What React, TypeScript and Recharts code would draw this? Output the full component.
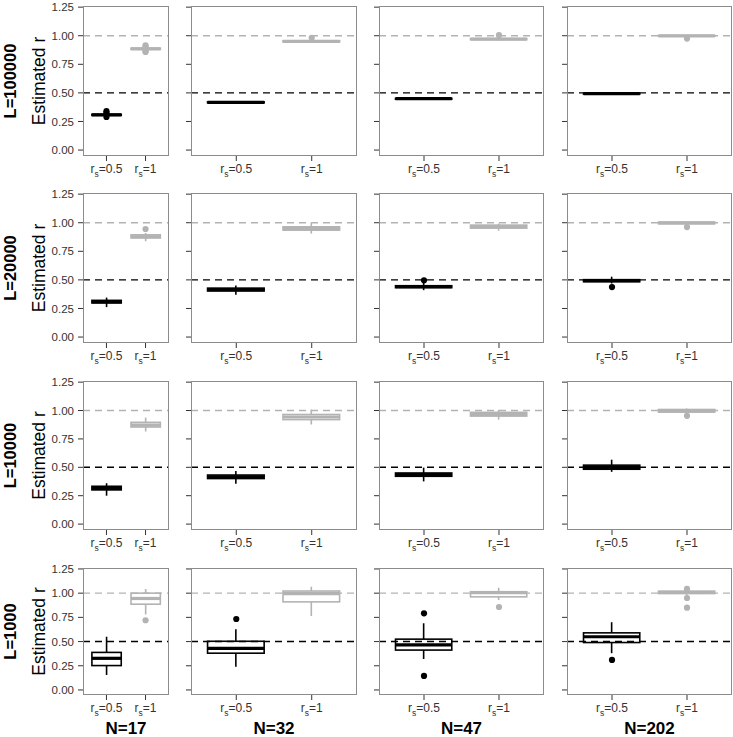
import React from 'react';
import { ComposedChart, Bar, Scatter, XAxis, YAxis, ReferenceLine } from 'recharts';

// ---------- data ----------
const ROW_LABELS = ['L=100000', 'L=20000', 'L=10000', 'L=1000'];
const COL_LABELS = ['N=17', 'N=32', 'N=47', 'N=202'];
const CATEGORIES = ['0.5', '1'];
const Y_TICKS = [0, 0.25, 0.5, 0.75, 1, 1.25];
const TRUE_R = [0.5, 1];
const Y_AXIS_TITLE = 'Estimated r';

// [lowWhisker, q1, median, q3, highWhisker]  rows: L, cols: N
const BOX_RS05 = [
  [[0.297, 0.303, 0.308, 0.313, 0.32], [0.406, 0.413, 0.417, 0.421, 0.428], [0.439, 0.445, 0.449, 0.452, 0.458], [0.486, 0.49, 0.493, 0.496, 0.5]],
  [[0.262, 0.298, 0.309, 0.321, 0.345], [0.37, 0.403, 0.415, 0.428, 0.452], [0.41, 0.432, 0.441, 0.449, 0.478], [0.468, 0.484, 0.493, 0.502, 0.528]],
  [[0.25, 0.301, 0.315, 0.333, 0.36], [0.355, 0.401, 0.416, 0.432, 0.467], [0.376, 0.421, 0.436, 0.45, 0.497], [0.46, 0.483, 0.5, 0.519, 0.567]],
  [[0.155, 0.252, 0.327, 0.388, 0.55], [0.24, 0.38, 0.43, 0.503, 0.627], [0.32, 0.412, 0.465, 0.525, 0.689], [0.38, 0.49, 0.55, 0.59, 0.7]],
];
const BOX_RS1 = [
  [[0.872, 0.88, 0.886, 0.891, 0.9], [0.937, 0.946, 0.951, 0.956, 0.966], [0.958, 0.966, 0.971, 0.975, 0.985], [0.99, 0.996, 0.999, 1.002, 1.006]],
  [[0.838, 0.867, 0.878, 0.894, 0.91], [0.905, 0.935, 0.95, 0.964, 1.0], [0.93, 0.953, 0.965, 0.979, 0.993], [0.985, 0.991, 0.998, 1.005, 1.012]],
  [[0.815, 0.855, 0.872, 0.896, 0.937], [0.877, 0.92, 0.943, 0.965, 1.008], [0.92, 0.951, 0.967, 0.984, 1.006], [0.972, 0.986, 0.998, 1.009, 1.018]],
  [[0.78, 0.886, 0.945, 1.0, 1.043], [0.764, 0.91, 0.995, 1.022, 1.067], [0.93, 0.962, 1.005, 1.015, 1.057], [0.975, 0.996, 1.008, 1.02, 1.035]],
];
const OUT_RS05 = [
  [[0.34, 0.326, 0.29], [], [], []],
  [[], [], [0.496], [0.437]],
  [[], [], [], []],
  [[], [0.733], [0.792, 0.145], [0.31]],
];
const OUT_RS1 = [
  [[0.915, 0.905, 0.865, 0.858], [0.982], [1.005], [0.975]],
  [[0.945], [], [], [0.962]],
  [[], [], [], [0.953]],
  [[0.72], [], [0.857], [1.045, 0.95, 0.85]],
];

// ---------- layout / style ----------
const FONT = '"Liberation Sans", Arial, Helvetica, sans-serif';
const BLACK = '#000000';
const GRAY = '#b3b3b3';
const TEXT = '#333333';
const BORDER = '#8c8c8c';
const COL_X = [83, 191, 379, 567];
const COL_W = [86, 166, 165, 165];
const ROW_Y = [6, 193, 381, 568];
const ROW_H = [150, 150, 149, 127];
const Y_DOMAIN: [number, number] = [-0.052, 1.26];
const OUT_KEYS = ['o0', 'o1', 'o2', 'o3'];
const TOP_PAD = 8;

const colorOf = (cat: string) => (cat === CATEGORIES[0] ? BLACK : GRAY);

const BoxShape = (props: any) => {
  const { x, y, width, height, payload } = props;
  if (!payload || !isFinite(x) || !isFinite(y)) return <g />;
  const { lo, q1, med, q3, hi, cat } = payload;
  const k = height / (hi - lo);
  const py = (v: number) => y + (hi - v) * k;
  const cx = x + width / 2;
  const col = colorOf(cat);
  return (
    <g>
      <line x1={cx} x2={cx} y1={py(hi)} y2={py(q3)} stroke={col} strokeWidth={1.6} />
      <line x1={cx} x2={cx} y1={py(q1)} y2={py(lo)} stroke={col} strokeWidth={1.6} />
      <rect x={x} y={py(q3)} width={width} height={Math.max(py(q1) - py(q3), 0)} fill="#ffffff" stroke={col} strokeWidth={1.6} />
      <line x1={x} x2={x + width} y1={py(med)} y2={py(med)} stroke={col} strokeWidth={3.2} />
    </g>
  );
};

const makeDot = (key: string) => (props: any) => {
  const { cx, cy, payload } = props;
  if (!payload || payload[key] == null || cy == null || !isFinite(cy) || !isFinite(cx)) return <g />;
  return <circle cx={cx} cy={cy} r={3.1} fill={colorOf(payload.cat)} />;
};

const XTick = (props: any) => {
  const { x, y, payload } = props;
  return (
    <text x={x} y={y + 10} textAnchor="middle" fontSize={12} fill={TEXT} fontFamily={FONT}>
      r<tspan fontSize={8.5} dy={3.5}>s</tspan>
      <tspan dy={-3.5}>={payload.value}</tspan>
    </text>
  );
};

const EmptyTick = () => <g />;

function Panel({ r, c }: { r: number; c: number }) {
  const yw = c === 0 ? 83 : 6;
  const pw = COL_W[c];
  const ph = ROW_H[r];
  const xh = 30;
  const pad = pw * 0.0455;
  const barSize = pw * 0.341;
  const data = CATEGORIES.map((cat, i) => {
    const b = (i === 0 ? BOX_RS05 : BOX_RS1)[r][c];
    const o = (i === 0 ? OUT_RS05 : OUT_RS1)[r][c];
    const row: any = { cat, lo: b[0], q1: b[1], med: b[2], q3: b[3], hi: b[4] };
    OUT_KEYS.forEach((k, j) => {
      row[k] = o[j] != null ? o[j] : null;
    });
    return row;
  });
  return (
    <>
      <div style={{ position: 'absolute', left: COL_X[c] - yw, top: ROW_Y[r] - TOP_PAD }}>
        <ComposedChart width={yw + pw} height={ph + xh + TOP_PAD} data={data} margin={{ top: TOP_PAD, right: 0, bottom: 0, left: 0 }}>
          <XAxis
            dataKey="cat"
            type="category"
            allowDuplicatedCategory={false}
            padding={{ left: pad, right: pad }}
            height={xh}
            axisLine={false}
            tickLine={{ stroke: TEXT, strokeWidth: 1 }}
            tickSize={5}
            interval={0}
            tick={<XTick />}
          />
          <YAxis
            type="number"
            domain={Y_DOMAIN}
            allowDataOverflow
            ticks={Y_TICKS}
            interval={0}
            width={yw}
            axisLine={false}
            tickLine={{ stroke: TEXT, strokeWidth: 1 }}
            tickSize={5}
            tickMargin={4}
            tickFormatter={(v: number) => v.toFixed(2)}
            tick={c === 0 ? { fontSize: 11.5, fill: TEXT, fontFamily: FONT } : <EmptyTick />}
          />
          <Bar dataKey={(d: any) => [d.lo, d.hi]} barSize={barSize} shape={BoxShape} isAnimationActive={false} />
          <ReferenceLine y={TRUE_R[0]} stroke={BLACK} strokeWidth={1.4} strokeDasharray="7 5" />
          <ReferenceLine y={TRUE_R[1]} stroke={GRAY} strokeWidth={1.4} strokeDasharray="7 5" />
          {OUT_KEYS.map((k) => (
            <Scatter key={k} dataKey={k} isAnimationActive={false} shape={makeDot(k)} />
          ))}
        </ComposedChart>
      </div>
      <div
        style={{
          position: 'absolute',
          left: COL_X[c],
          top: ROW_Y[r],
          width: pw,
          height: ph,
          border: `1px solid ${BORDER}`,
          boxSizing: 'border-box',
          pointerEvents: 'none',
        }}
      />
    </>
  );
}

export default function App() {
  return (
    <div style={{ position: 'absolute', left: 0, top: 0, width: 733, height: 737, background: '#ffffff', overflow: 'hidden' }}>
      <svg style={{ position: 'absolute', left: 0, top: 0 }} width={733} height={737}>
        {ROW_LABELS.map((lab, r) => {
          const cy = ROW_Y[r] + ROW_H[r] / 2;
          return (
            <g key={lab}>
              <text transform={`translate(15.5, ${cy}) rotate(-90)`} textAnchor="middle" fontWeight="bold" fontSize={16.5} fontFamily={FONT} fill="#000">
                {lab}
              </text>
              <text transform={`translate(45, ${cy}) rotate(-90)`} textAnchor="middle" fontSize={17.5} fontFamily={FONT} fill="#000">
                {Y_AXIS_TITLE}
              </text>
            </g>
          );
        })}
        {COL_LABELS.map((lab, c) => (
          <text key={lab} x={COL_X[c] + COL_W[c] / 2} y={734} textAnchor="middle" fontWeight="bold" fontSize={17} fontFamily={FONT} fill="#000">
            {lab}
          </text>
        ))}
      </svg>
      {ROW_LABELS.map((_, r) => COL_LABELS.map((__, c) => <Panel key={`${r}-${c}`} r={r} c={c} />))}
    </div>
  );
}
